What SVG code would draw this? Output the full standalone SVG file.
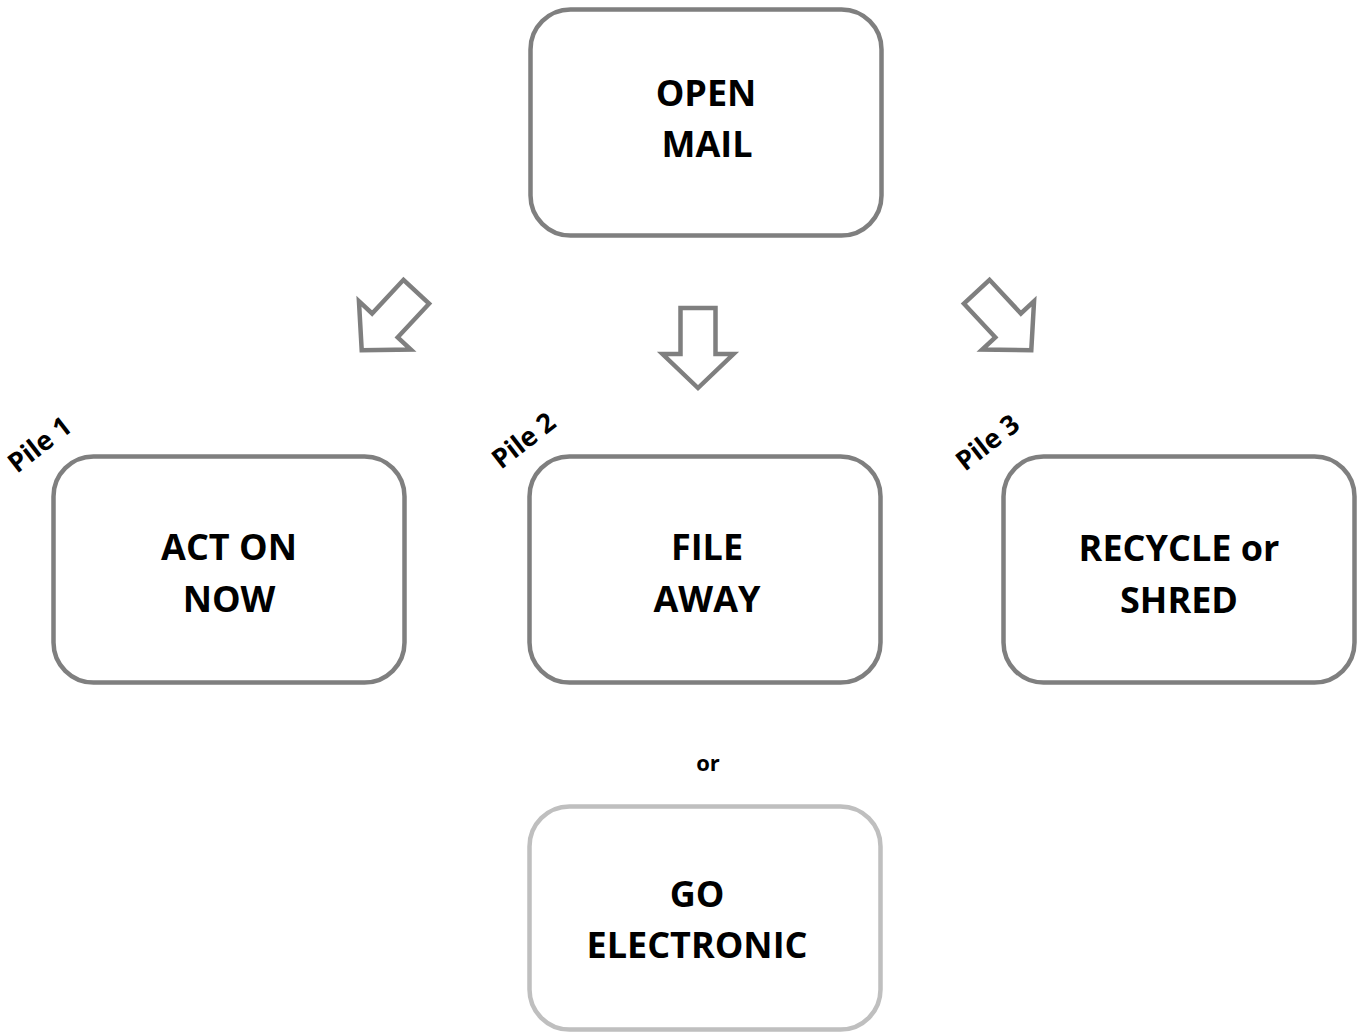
<svg xmlns="http://www.w3.org/2000/svg" width="1358" height="1032" viewBox="0 0 1358 1032">
<style>
.box{fill:#ffffff;stroke:#7f7f7f;stroke-width:4.5}
.box2{fill:#ffffff;stroke:#bfbfbf;stroke-width:4.5}
.lbl{font-family:"Open Sans","Liberation Sans",sans-serif;font-weight:bold;font-size:36px;fill:#000;text-anchor:middle}
.pile{font-family:"Open Sans","Liberation Sans",sans-serif;font-weight:bold;font-size:27px;fill:#000}
.or{font-family:"Open Sans","Liberation Sans",sans-serif;font-weight:bold;font-size:22px;fill:#000;text-anchor:middle}
.arr{fill:#ffffff;stroke:#7f7f7f;stroke-width:4.5;stroke-linejoin:miter}
</style>
<defs>
<polygon id="arrow" class="arr" points="-17.5,-40 17.5,-40 17.5,6 35.5,6 0,40 -35.5,6 -17.5,6"/>
</defs>
<rect width="1358" height="1032" fill="#ffffff"/>
<g id="connectors">
<use href="#arrow" transform="translate(389,321) rotate(43)"/>
<use href="#arrow" transform="translate(698,348)"/>
<use href="#arrow" transform="translate(1004,321) rotate(-43)"/>
</g>
<g id="open-mail">
<rect class="box" x="530.5" y="9.5" width="351" height="226" rx="40"/>
<text class="lbl" x="706" y="106">OPEN</text>
<text class="lbl" x="707" y="157">MAIL</text>
</g>
<g id="act-on-now">
<rect class="box" x="53.5" y="456.5" width="351" height="226" rx="40"/>
<text class="lbl" x="229" y="560">ACT ON</text>
<text class="lbl" x="229" y="612">NOW</text>
<text class="pile" x="17" y="474" transform="rotate(-38 17 474)">Pile 1</text>
</g>
<g id="file-away">
<rect class="box" x="529.5" y="456.5" width="351" height="226" rx="40"/>
<text class="lbl" x="707" y="560">FILE</text>
<text class="lbl" x="707" y="612">AWAY</text>
<text class="pile" x="501" y="470" transform="rotate(-38 501 470)">Pile 2</text>
</g>
<g id="recycle-shred">
<rect class="box" x="1003.5" y="456.5" width="351" height="226" rx="40"/>
<text class="lbl" x="1179" y="561">RECYCLE or</text>
<text class="lbl" x="1179" y="613">SHRED</text>
<text class="pile" x="965" y="472" transform="rotate(-38 965 472)">Pile 3</text>
</g>
<g id="or-label">
<text class="or" x="708" y="771">or</text>
</g>
<g id="go-electronic">
<rect class="box2" x="529.5" y="806.5" width="351" height="223" rx="40"/>
<text class="lbl" x="697" y="907">GO</text>
<text class="lbl" x="697" y="958">ELECTRONIC</text>
</g>
</svg>
